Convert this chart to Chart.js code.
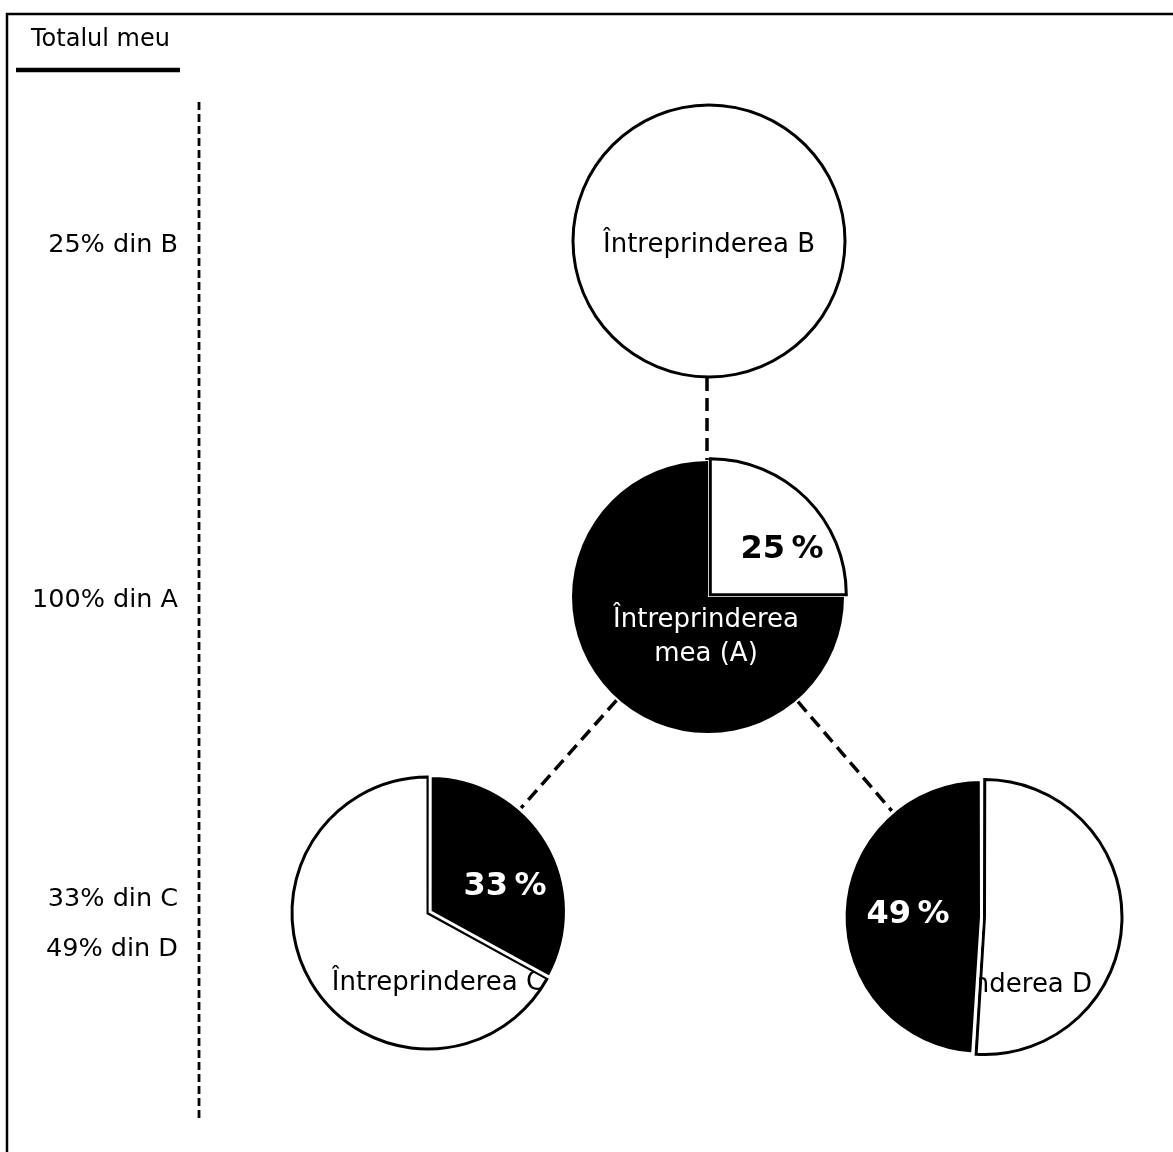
<!DOCTYPE html>
<html>
<head>
<meta charset="utf-8">
<script src="https://cdn.jsdelivr.net/npm/chart.js@4.4.1/dist/chart.umd.min.js"></script>
<style>
  html, body { margin: 0; padding: 0; background: #fff; }
  body { width: 1173px; height: 1152px; position: relative; overflow: hidden; font-family: "DejaVu Sans", sans-serif; color: #000; }
  canvas { position: absolute; }
  .lbl { position: absolute; font-size: 25.5px; line-height: 30px; white-space: nowrap; }
  .side { right: 995px; text-align: right; }
  #title { left: 31px; top: 23px; font-size: 24px; }
</style>
</head>
<body>
<canvas id="bg" width="1173" height="1152" style="left:0;top:0"></canvas>
<div id="title" class="lbl">Totalul meu</div>
<div id="sideLabels"></div>

<canvas id="pieB" width="340" height="340"></canvas>
<canvas id="pieA" width="340" height="340"></canvas>
<canvas id="pieC" width="340" height="340"></canvas>
<canvas id="pieD" width="340" height="340"></canvas>

<script>
// values
const companyNames = ["Întreprinderea B", "Întreprinderea mea (A)", "Întreprinderea C", "Întreprinderea D"];
const sharesB = [100];       // B, drawn whole
const sharesA = [25, 75];    // 25 % of A held by B, rest
const sharesC = [33, 67];    // A holds 33 % of C
const sharesD = [49, 51];    // A holds 49 % of D
const totalLabels = ["25% din B", "100% din A", "33% din C", "49% din D"];

// layout (pie centres and radius in page pixels)
const R = 136;
const pos = {
  B: { x: 709, y: 241 },
  A: { x: 708, y: 597 },
  C: { x: 428, y: 913 },
  D: { x: 983, y: 917 }
};
const sideY = [243, 598, 897, 947];

// left column labels
const side = document.getElementById("sideLabels");
totalLabels.forEach((t, i) => {
  const d = document.createElement("div");
  d.className = "lbl side";
  d.style.top = (sideY[i] - 15) + "px";
  d.textContent = t;
  side.appendChild(d);
});

// frame, underline and dashed connectors
const bg = document.getElementById("bg").getContext("2d");
bg.strokeStyle = "#000";
bg.lineWidth = 2.5;
bg.beginPath();
bg.moveTo(7, 1152);
bg.lineTo(7, 14);
bg.lineTo(1173, 14);
bg.stroke();

bg.lineWidth = 4.5;
bg.beginPath();
bg.moveTo(16, 70);
bg.lineTo(180, 70);
bg.stroke();

bg.lineWidth = 2.8;
bg.setLineDash([8, 4]);
bg.beginPath();
bg.moveTo(199, 102);
bg.lineTo(199, 1122);
bg.stroke();

function connect(p, q) {
  // from edge of pie p to edge of pie q
  const dx = q.x - p.x, dy = q.y - p.y;
  const len = Math.hypot(dx, dy);
  const ux = dx / len, uy = dy / len;
  bg.beginPath();
  bg.moveTo(p.x + ux * (R + 2), p.y + uy * (R + 2));
  bg.lineTo(q.x - ux * (R - 2), q.y - uy * (R - 2));
  bg.stroke();
}
bg.lineWidth = 3.5;
bg.setLineDash([13, 7]);
bg.beginPath();
bg.moveTo(707, 378);
bg.lineTo(707, 460);
bg.stroke();
connect(pos.A, pos.C);
connect(pos.A, pos.D);

// text inside the pies; "under" items are covered again by slices listed in redraw
const pieText = {
  id: "pieText",
  afterDatasetsDraw(chart, args, opts) {
    const ctx = chart.ctx;
    const meta = chart.getDatasetMeta(0);
    const cx = meta.data[0].x, cy = meta.data[0].y;
    const put = (t) => {
      ctx.save();
      ctx.font = t.font;
      ctx.fillStyle = t.color;
      ctx.textAlign = "center";
      ctx.textBaseline = "middle";
      ctx.fillText(t.text, cx + t.dx, cy + t.dy);
      ctx.restore();
    };
    (opts.under || []).forEach(put);
    (opts.redraw || []).forEach(i => meta.data[i].draw(ctx));
    (opts.over || []).forEach(put);
  }
};

const nameFont = '26px "DejaVu Sans"';
const pctFont = 'bold 32px "DejaVu Sans"';

function makePie(id, p, data, ds, rotation, text, type) {
  const el = document.getElementById(id);
  el.style.left = (p.x - 170) + "px";
  el.style.top = (p.y - 170) + "px";
  return new Chart(el, {
    type: type || "pie",
    data: {
      labels: data.map((v, i) => i),
      datasets: [Object.assign({
        data: data,
        radius: R,
        borderJoinStyle: "miter",
        borderAlign: "center"
      }, ds)]
    },
    options: {
      responsive: false,
      animation: false,
      events: [],
      rotation: rotation,
      layout: { padding: 0 },
      plugins: {
        legend: { display: false },
        tooltip: { enabled: false },
        pieText: text
      }
    },
    plugins: [pieText]
  });
}

const sum = (a) => a.reduce((s, v) => s + v, 0);

// B is a single whole slice: drawn as a thin black ring so no radius seam shows
makePie("pieB", pos.B, sharesB, {
  backgroundColor: ["#000"],
  borderWidth: 0,
  radius: R + 1.5,
  cutout: ((R - 1.5) / (R + 1.5) * 100) + "%"
}, 0, {
  under: [{ text: companyNames[0], font: nameFont, color: "#000", dx: 0, dy: 4 }]
}, "doughnut");

makePie("pieA", pos.A, sharesA, {
  backgroundColor: ["#fff", "#000"],
  borderColor: ["#000", "#000"],
  borderWidth: [3, 0],
  offset: [13, 0]
}, 0, {
  under: [
    { text: "Întreprinderea", font: nameFont, color: "#fff", dx: -2, dy: 23 },
    { text: "mea (A)", font: nameFont, color: "#fff", dx: -2, dy: 57 },
    { text: sharesA[0] + "\u2009%", font: pctFont, color: "#000", dx: 74, dy: -47 }
  ]
});

makePie("pieC", pos.C, sharesC, {
  backgroundColor: ["#000", "#fff"],
  borderColor: ["#fff", "#000"],
  borderWidth: [3, 3],
  offset: [10, 0]
}, 0, {
  under: [{ text: companyNames[2], font: nameFont, color: "#000", dx: 10, dy: 70 }],
  redraw: [0],
  over: [{ text: sharesC[0] + "\u2009%", font: pctFont, color: "#fff", dx: 77, dy: -26 }]
});

makePie("pieD", pos.D, sharesD, {
  backgroundColor: ["#000", "#fff"],
  borderColor: ["#fff", "#000"],
  borderWidth: [3, 3],
  offset: [6, 6]
}, -sharesD[0] / sum(sharesD) * 360, {
  under: [{ text: companyNames[3], font: nameFont, color: "#000", dx: 2, dy: 68 }],
  redraw: [0],
  over: [{ text: sharesD[0] + "\u2009%", font: pctFont, color: "#fff", dx: -75, dy: -2 }]
});
</script>
</body>
</html>
